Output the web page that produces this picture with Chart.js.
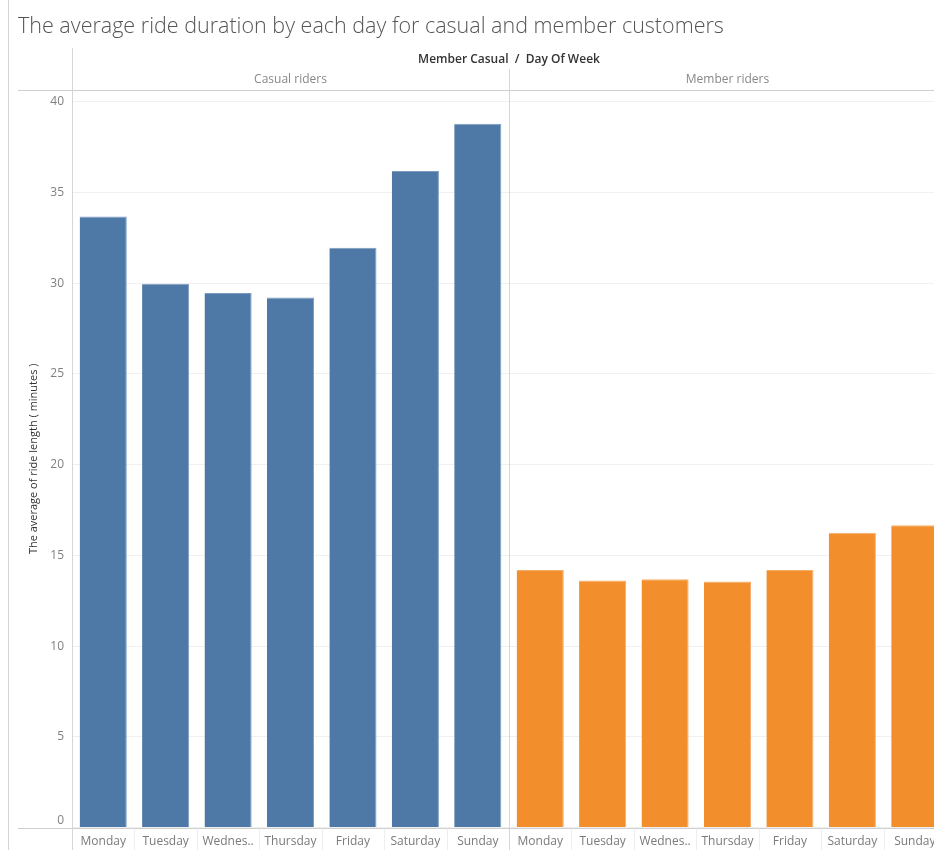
<!DOCTYPE html>
<html>
<head>
<meta charset="utf-8">
<title>Average ride duration by day</title>
<script src="https://cdn.jsdelivr.net/npm/chart.js@4.4.1/dist/chart.umd.min.js"></script>
<style>
  html, body { margin: 0; padding: 0; background: #fff; overflow: hidden; }
  #wrap { position: absolute; left: 0; top: 0; width: 960px; height: 850px; }
</style>
</head>
<body>
<div id="wrap"><canvas id="chart" width="960" height="850"></canvas></div>
<script>
// Data: average ride length in minutes, per day of week, per rider type
const dayLabels = ['Monday', 'Tuesday', 'Wednes..', 'Thursday', 'Friday', 'Saturday', 'Sunday'];
const riderGroups = ['Casual riders', 'Member riders'];
const casualMinutes = [33.68, 29.97, 29.46, 29.22, 31.95, 36.18, 38.79];
const memberMinutes = [14.20, 13.62, 13.68, 13.56, 14.20, 16.25, 16.66];
const yTickValues = [0, 5, 10, 15, 20, 25, 30, 35, 40];

const chartTitle = 'The average ride duration by each day for casual and member customers';
const headerTitle = 'Member Casual  /  Day Of Week';
const yAxisTitle = 'The average of ride length ( minutes )';

const FONT = '"Open Sans", "DejaVu Sans", sans-serif';
const casualColor = '#4e79a7';
const memberColor = '#f28e2b';

// One category axis with both panes side by side (7 casual days, then 7 member days)
const allLabels = dayLabels.concat(dayLabels);
const nulls = dayLabels.map(() => null);

// Frame, pane headers, divider and title, all placed from the chart's scales
const panelPlugin = {
  id: 'panelFrame',
  afterDraw(chart) {
    const { ctx, chartArea } = chart;
    const n = allLabels.length;
    const step = (chartArea.right - chartArea.left) / n;
    const boundary = (i) => chartArea.left + i * step;
    const paneMid = boundary(dayLabels.length);
    const H = chart.height;

    ctx.save();
    // title
    ctx.fillStyle = '#555';
    ctx.font = '300 21.5px ' + FONT;
    ctx.textBaseline = 'middle';
    ctx.textAlign = 'left';
    ctx.fillText(chartTitle, 18, 27);

    // outer left border
    ctx.strokeStyle = '#d4d4d4';
    ctx.lineWidth = 1;
    ctx.beginPath();
    ctx.moveTo(8.5, 0); ctx.lineTo(8.5, H);
    ctx.stroke();

    // header bottom line and axis baseline
    ctx.strokeStyle = '#cfcfcf';
    ctx.beginPath();
    ctx.moveTo(18, Math.round(chartArea.top) + 0.5); ctx.lineTo(chart.width, Math.round(chartArea.top) + 0.5);
    ctx.moveTo(18, Math.round(chartArea.bottom) + 0.5); ctx.lineTo(chart.width, Math.round(chartArea.bottom) + 0.5);
    ctx.stroke();

    // left plot edge and pane divider
    ctx.strokeStyle = '#d6d6d6';
    ctx.beginPath();
    ctx.moveTo(Math.round(chartArea.left) + 0.5, 48); ctx.lineTo(Math.round(chartArea.left) + 0.5, H);
    ctx.moveTo(Math.round(paneMid) + 0.5, 69); ctx.lineTo(Math.round(paneMid) + 0.5, H);
    ctx.stroke();

    // faint separators between day labels
    ctx.strokeStyle = '#eeeeee';
    ctx.beginPath();
    for (let i = 1; i < n; i++) {
      if (i === dayLabels.length) continue;
      const bx = Math.round(boundary(i)) + 0.5;
      ctx.moveTo(bx, chartArea.bottom + 1); ctx.lineTo(bx, H);
    }
    ctx.stroke();

    // headers
    ctx.textAlign = 'center';
    ctx.fillStyle = '#333';
    ctx.font = '600 12px ' + FONT;
    ctx.fillText(headerTitle, paneMid, 60);
    ctx.fillStyle = '#888';
    ctx.font = '12px ' + FONT;
    ctx.fillText(riderGroups[0], (chartArea.left + paneMid) / 2, 80);
    ctx.fillText(riderGroups[1], (paneMid + chartArea.right) / 2, 80);
    ctx.restore();
  }
};

new Chart(document.getElementById('chart'), {
  type: 'bar',
  data: {
    labels: allLabels,
    datasets: [
      {
        label: riderGroups[0],
        data: casualMinutes.concat(nulls),
        backgroundColor: casualColor,
        borderColor: '#7d9bbf',
        borderWidth: { top: 1, right: 1, left: 0, bottom: 0 },
        grouped: false,
        categoryPercentage: 1,
        barPercentage: 0.755
      },
      {
        label: riderGroups[1],
        data: nulls.concat(memberMinutes),
        backgroundColor: memberColor,
        borderColor: '#f7ae6b',
        borderWidth: { top: 1, right: 1, left: 0, bottom: 0 },
        grouped: false,
        categoryPercentage: 1,
        barPercentage: 0.755
      }
    ]
  },
  options: {
    responsive: false,
    animation: false,
    layout: { padding: { top: 90, right: 14, left: 0, bottom: 0 } },
    plugins: {
      legend: { display: false },
      tooltip: { enabled: false },
      title: { display: false }
    },
    scales: {
      x: {
        type: 'category',
        offset: true,
        grid: { display: false, drawTicks: false },
        border: { display: false },
        ticks: {
          color: '#7a7a7a',
          font: { family: FONT, size: 12 },
          padding: 7,
          maxRotation: 0,
          autoSkip: false
        },
        afterFit(scale) { scale.height = 20; }
      },
      y: {
        min: 0,
        max: 40.65,
        afterBuildTicks(scale) {
          scale.ticks = yTickValues.map(v => ({ value: v }));
        },
        grid: {
          color: '#f0f0f0',
          drawTicks: false
        },
        border: { display: false },
        ticks: {
          color: '#808080',
          font: { family: FONT, size: 12 },
          padding: 8,
          // the zero label sits just above the baseline
          callback: (v) => (v === 0 ? ['0', ''] : String(v))
        },
        title: {
          display: true,
          text: yAxisTitle,
          color: '#333',
          font: { family: FONT, size: 11 },
          padding: { top: 27, bottom: 0 }
        },
        afterFit(scale) { scale.width = 72; }
      }
    }
  },
  plugins: [panelPlugin]
});
</script>
</body>
</html>
